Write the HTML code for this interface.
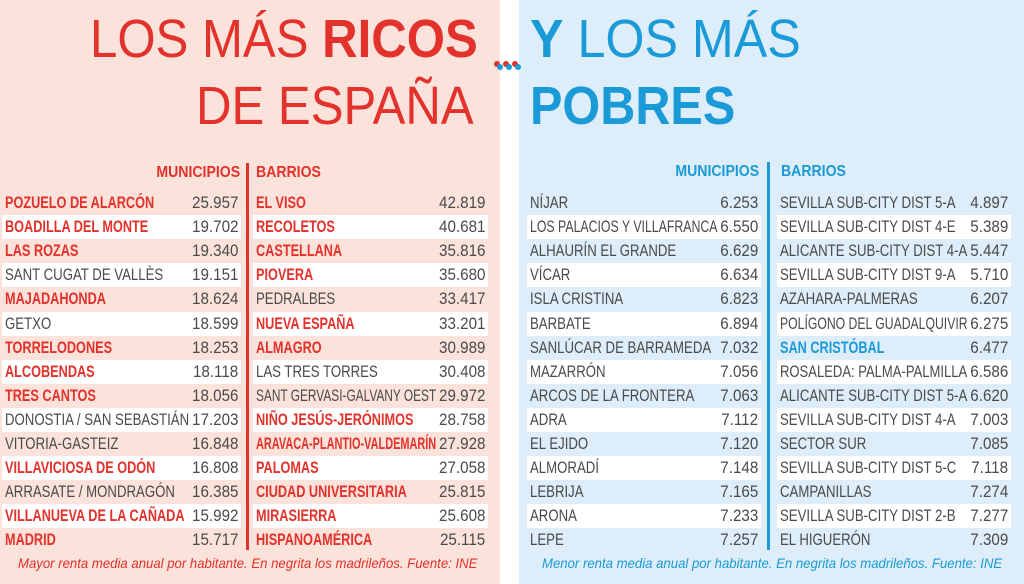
<!DOCTYPE html>
<html><head><meta charset="utf-8"><style>
*{margin:0;padding:0;box-sizing:border-box}
body{width:1024px;height:584px;position:relative;overflow:hidden;background:#fff;font-family:"Liberation Sans",sans-serif}
.bg{position:absolute;top:0;height:584px}
.t{position:absolute;white-space:nowrap;line-height:1;transform-origin:left top}
.row{position:absolute;height:24px;font-size:16.5px;line-height:24px;white-space:nowrap}
.row span.n{position:absolute;left:3px;transform-origin:left center}
.row span.v{position:absolute;right:3px;transform:scaleX(0.92);transform-origin:right center}
.w{background:#fff}
.r{color:#e3322b;font-weight:bold}
.g{color:#4a4a4a}
.b{color:#1a9ad6;font-weight:bold}
.vl{position:absolute;width:3px}
.hd{position:absolute;white-space:nowrap;line-height:1;font-size:16px;font-weight:bold}
</style></head><body>
<div class="bg" style="left:0;width:500px;background:#fbe2db"></div>
<div class="bg" style="left:519px;width:505px;background:#ddedf9"></div>

<div class="t" style="left:90px;top:12px;font-size:54px;color:#e3322b;transform:scaleX(0.91)">LOS MÁS <b>RICOS</b></div>
<div class="t" style="left:196px;top:79px;font-size:54px;color:#e3322b;transform:scaleX(0.91)">DE ESPAÑA</div>
<div class="t" style="left:530px;top:12px;font-size:54px;color:#1a9ad6;transform:scaleX(0.93)"><b>Y</b> LOS MÁS</div>
<div class="t" style="left:530px;top:79px;font-size:54px;color:#1a9ad6;font-weight:bold;transform:scaleX(0.9)">POBRES</div>
<div style="position:absolute;left:494px;top:61px;width:28px;height:8px">
<span style="position:absolute;left:0;top:0;width:6px;height:6px;border-radius:3px;background:#e3322b"></span>
<span style="position:absolute;left:9px;top:0;width:6px;height:6px;border-radius:3px;background:#e3322b"></span>
<span style="position:absolute;left:18px;top:0;width:6px;height:6px;border-radius:3px;background:#e3322b"></span>
<span style="position:absolute;left:3px;top:3px;width:6px;height:6px;border-radius:3px;background:#1a9ad6"></span>
<span style="position:absolute;left:12px;top:3px;width:6px;height:6px;border-radius:3px;background:#1a9ad6"></span>
<span style="position:absolute;left:21px;top:3px;width:6px;height:6px;border-radius:3px;background:#1a9ad6"></span>
</div>

<div class="hd" style="right:784px;top:165px;color:#e3322b;transform:scaleX(0.88);transform-origin:right top">MUNICIPIOS</div>
<div class="hd" style="left:256px;top:165px;color:#e3322b;transform:scaleX(0.88);transform-origin:left top">BARRIOS</div>
<div class="vl" style="left:246px;top:163px;height:387px;background:#e3322b"></div>
<div class="hd" style="right:265px;top:164px;color:#1a9ad6;transform:scaleX(0.88);transform-origin:right top">MUNICIPIOS</div>
<div class="hd" style="left:781px;top:164px;color:#1a9ad6;transform:scaleX(0.88);transform-origin:left top">BARRIOS</div>
<div class="vl" style="left:767px;top:162px;height:388px;background:#1a9ad6"></div>

<div id="rows"></div>

<div class="t" style="left:18px;top:556px;font-size:14px;font-style:italic;color:#e3322b;transform:scaleX(0.94)">Mayor renta media anual por habitante. En negrita los madrileños. Fuente: INE</div>
<div class="t" style="left:542px;top:556px;font-size:14px;font-style:italic;color:#1a9ad6;transform:scaleX(0.94)">Menor renta media anual por habitante. En negrita los madrileños. Fuente: INE</div>

<script>
var L1=[["POZUELO DE ALARCÓN","25.957",1],["BOADILLA DEL MONTE","19.702",1],["LAS ROZAS","19.340",1],["SANT CUGAT DE VALLÈS","19.151",0],["MAJADAHONDA","18.624",1],["GETXO","18.599",0],["TORRELODONES","18.253",1],["ALCOBENDAS","18.118",1],["TRES CANTOS","18.056",1],["DONOSTIA / SAN SEBASTIÁN","17.203",0],["VITORIA-GASTEIZ","16.848",0],["VILLAVICIOSA DE ODÓN","16.808",1],["ARRASATE / MONDRAGÓN","16.385",0],["VILLANUEVA DE LA CAÑADA","15.992",1],["MADRID","15.717",1]];
var L2=[["EL VISO","42.819",1],["RECOLETOS","40.681",1],["CASTELLANA","35.816",1],["PIOVERA","35.680",1],["PEDRALBES","33.417",0],["NUEVA ESPAÑA","33.201",1],["ALMAGRO","30.989",1],["LAS TRES TORRES","30.408",0],["SANT GERVASI-GALVANY OEST","29.972",0],["NIÑO JESÚS-JERÓNIMOS","28.758",1],["ARAVACA-PLANTIO-VALDEMARÍN","27.928",1],["PALOMAS","27.058",1],["CIUDAD UNIVERSITARIA","25.815",1],["MIRASIERRA","25.608",1],["HISPANOAMÉRICA","25.115",1]];
var R1=[["NÍJAR","6.253"],["LOS PALACIOS Y VILLAFRANCA","6.550"],["ALHAURÍN EL GRANDE","6.629"],["VÍCAR","6.634"],["ISLA CRISTINA","6.823"],["BARBATE","6.894"],["SANLÚCAR DE BARRAMEDA","7.032"],["MAZARRÓN","7.056"],["ARCOS DE LA FRONTERA","7.063"],["ADRA","7.112"],["EL EJIDO","7.120"],["ALMORADÍ","7.148"],["LEBRIJA","7.165"],["ARONA","7.233"],["LEPE","7.257"]];
var R2=[["SEVILLA SUB-CITY DIST 5-A","4.897"],["SEVILLA SUB-CITY DIST 4-E","5.389"],["ALICANTE SUB-CITY DIST 4-A","5.447"],["SEVILLA SUB-CITY DIST 9-A","5.710"],["AZAHARA-PALMERAS","6.207"],["POLÍGONO DEL GUADALQUIVIR","6.275"],["SAN CRISTÓBAL","6.477",1],["ROSALEDA: PALMA-PALMILLA","6.586"],["ALICANTE SUB-CITY DIST 5-A","6.620"],["SEVILLA SUB-CITY DIST 4-A","7.003"],["SECTOR SUR","7.085"],["SEVILLA SUB-CITY DIST 5-C","7.118"],["CAMPANILLAS","7.274"],["SEVILLA SUB-CITY DIST 2-B","7.277"],["EL HIGUERÓN","7.309"]];
var h="";
function col(d,x,w,boldCls){for(var i=0;i<d.length;i++){var top=191+i*24.1;var cls=(i%2?"row w":"row");var nc=d[i][2]?boldCls:"g";h+='<div class="'+cls+'" style="left:'+x+'px;top:'+top+'px;width:'+w+'px"><span class="n '+nc+'" data-b="'+(d[i][2]?1:0)+'">'+d[i][0]+'</span><span class="v g">'+d[i][1]+'</span></div>';}}
col(L1,2,239,"r");col(L2,253,235,"r");col(R1,527,234,"b");col(R2,777,234,"b");
document.getElementById("rows").innerHTML=h;
var rows=document.querySelectorAll(".row");
for(var k=0;k<rows.length;k++){var n=rows[k].children[0],v=rows[k].children[1];
var base=n.getAttribute("data-b")=="1"?0.77:0.8;
var avail=rows[k].clientWidth-6-v.offsetWidth*0.92-3;
var s=Math.min(base,avail/n.offsetWidth);
n.style.transform="scaleX("+s+")";}
</script>
</body></html>
